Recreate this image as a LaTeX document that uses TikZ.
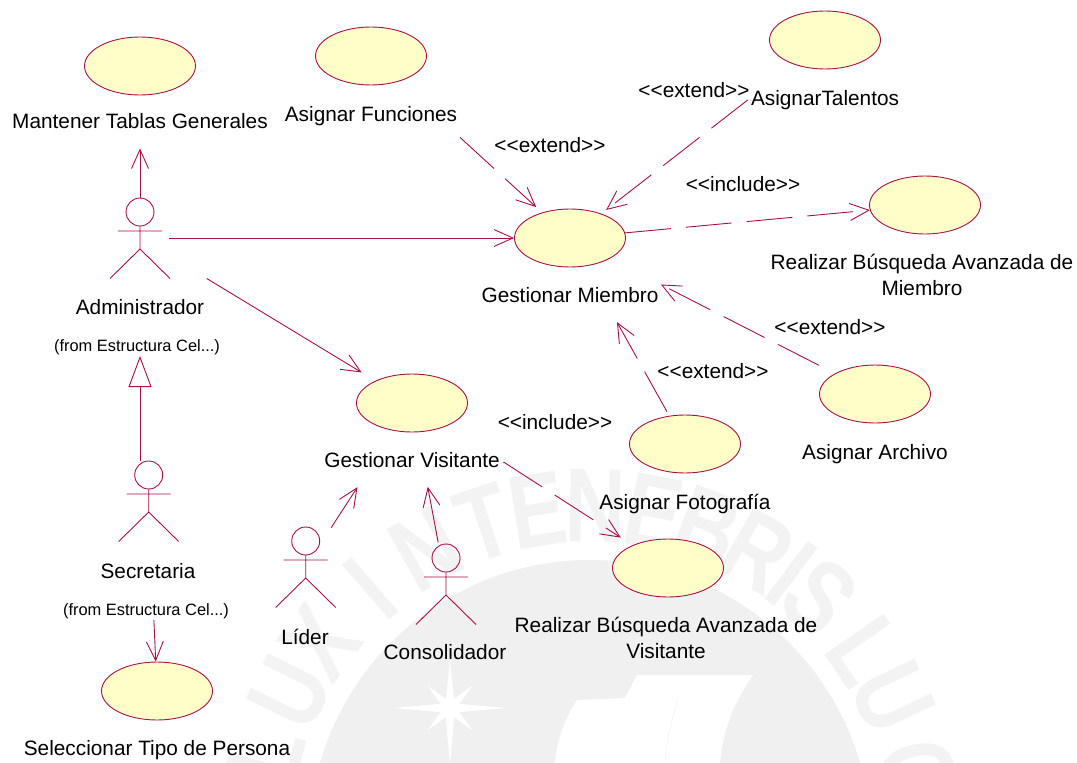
\documentclass[tikz,border=0pt]{standalone}
\usepackage{fontspec}
\setmainfont{Liberation Sans}
\usetikzlibrary{arrows.meta,shapes.geometric}
\definecolor{umlred}{HTML}{A6104A}
\definecolor{umlfill}{HTML}{FFFDC8}
\definecolor{sealgray}{HTML}{F0F0F0}
\definecolor{sealtext}{HTML}{F3F3F3}
\newcommand{\ster}[1]{<{}<#1>{}>}
\tikzset{
  lbl/.style={text=black,font=\fontsize{20.8}{26}\selectfont,inner sep=0pt,text height=15pt,text depth=5pt,align=center},
  uclbl/.style={lbl,yshift=-20pt},
  uclbltwo/.style={lbl,yshift=-46pt},
  small/.style={text=black,font=\fontsize{16.4}{18}\selectfont,inner sep=0pt},
  usecase/.style={draw=umlred,fill=umlfill,line width=.9pt,ellipse,minimum width=111pt,minimum height=58pt,inner sep=0pt},
  assoc/.style={draw=umlred,line width=.9pt,-{Straight Barb[length=19pt,width=17pt]}},
  depend/.style={assoc,dash pattern=on 46pt off 15pt},
  general/.style={draw=umlred,line width=.9pt,-{Triangle[open,length=31pt,width=23pt,fill=white]}},
  seal/.style={text=sealtext,font=\fontsize{105}{105}\bfseries\selectfont,inner sep=0pt},
  actor/.pic={
    \draw[umlred,line width=.9pt] (0,26) circle (14);
    \draw[umlred,line width=.9pt] (0,12) -- (0,-11) (-30,-40.5) -- (0,-11) -- (30,-40.5) (-22,7) -- (22,7);
  }
}
\begin{document}
\begin{tikzpicture}[x=1pt,y=1pt]
\useasboundingbox (0,0) rectangle (1077,-763);
\clip (0,0) rectangle (1077,-763);
% seal behind the diagram
\begin{scope}[shift={(590,-841)}]
  \fill[sealgray] (0,0) circle (281);
  \foreach \ltr/\ang in {L/165,U/153.6,X/143.7,I/131,N/119.3,T/108.3,E/99,N/89,E/79,B/69.5,R/60,I/53,S/46.7,L/34.6,U/25.4,C/12}
    \node[seal,transform shape,rotate=\ang-90,xscale=.8] (ltr\ang) at (\ang:335) {\ltr};
\end{scope}
\fill[white] (577,-700) -- (625,-698) -- (637,-675) -- (753,-675) .. controls (732,-705) and (722,-735) .. (720,-763) -- (555,-763) .. controls (557,-740) and (565,-718) .. (577,-700) -- cycle;
\draw[sealgray,line width=.5pt] (678,-698) .. controls (672,-720) and (666,-740) .. (665,-763);
\foreach \a/\r in {0/56,180/56,90/48,270/56,45/32,135/32,225/32,315/32}
  \fill[white,shift={(450,-708)},rotate=\a] (0,-5) -- (\r,0) -- (0,5) -- (-5,0) -- cycle;

% use cases
\node[usecase,label={[uclbl,yshift=2pt,name=mantenerlbl]below:Mantener Tablas Generales}] (mantener) at (140,-66) {};
\node[usecase,label={[uclbl,yshift=-1pt,name=funcioneslbl]below:Asignar Funciones}] (funciones) at (371,-56) {};
\node[usecase,label={[uclbl,yshift=-1pt,name=talentoslbl]below:AsignarTalentos}] (talentos) at (825,-40) {};
\node[usecase,label={[uclbltwo,xshift=-3pt,name=busqmiembrolbl]below:Realizar Búsqueda Avanzada de\\Miembro}] (busqmiembro) at (925,-205) {};
\node[usecase,label={[uclbl,name=miembrolbl]below:Gestionar Miembro}] (miembro) at (570,-238) {};
\node[usecase,label={[uclbl,name=visitantelbl]below:Gestionar Visitante}] (visitante) at (412,-403) {};
\node[usecase,label={[uclbl,yshift=-1pt,name=archivolbl]below:Asignar Archivo}] (archivo) at (875,-394) {};
\node[usecase,label={[uclbl,yshift=-1pt,name=fotolbl]below:Asignar Fotografía}] (foto) at (685,-444) {};
\node[usecase,label={[uclbltwo,xshift=-2pt,name=busqvisitlbl]below:Realizar Búsqueda Avanzada de\\Visitante}] (busqvisit) at (668,-568) {};
\node[usecase,label={[uclbl,name=tipolbl]below:Seleccionar Tipo de Persona}] (tipo) at (157,-691) {};

% actors
\node[coordinate] (admin) at (140,-238) {};
\node[coordinate] (secre) at (148.7,-501) {};
\node[coordinate] (lider) at (305.7,-567) {};
\node[coordinate] (conso) at (446,-584) {};
\pic at (admin) {actor};
\pic at (secre) {actor};
\pic at (lider) {actor};
\pic at (conso) {actor};
\node[lbl] (adminlbl) at (140,-309) {Administrador};
\node[small] (adminfrom) at (137,-347) {(from Estructura Cel...)};
\node[lbl] (secrelbl) at (148,-573) {Secretaria};
\node[small] (secrefrom) at (146,-611) {(from Estructura Cel...)};
\node[lbl] (liderlbl) at (305,-639) {Líder};
\node[lbl] (consolbl) at (445,-654) {Consolidador};

% stereotypes
\node[lbl] (st1) at (694,-92) {\ster{extend}};
\node[lbl] (st2) at (550,-147) {\ster{extend}};
\node[lbl] (st3) at (743,-186) {\ster{include}};
\node[lbl] (st4) at (830,-329) {\ster{extend}};
\node[lbl] (st5) at (713,-373) {\ster{extend}};
\node[lbl] (st6) at (555,-424) {\ster{include}};

% connectors
\draw[assoc,shorten <=40pt,shorten >=53pt] (admin) -- (mantener);
\draw[assoc,shorten <=29pt] (admin) -- (miembro);
\draw[assoc,shorten <=78pt,shorten >=16pt] (admin) -- (visitante);
\draw[depend,shorten <=83pt,shorten >=8pt] (funciones) -- (miembro);
\draw[depend,shorten <=58pt,shorten >=6pt] (talentos) -- (miembro);
\draw[depend] (miembro) -- (busqmiembro);
\draw[depend,shorten <=18pt,shorten >=57pt] (archivo) -- (miembro);
\draw[depend,shorten <=4.5pt,shorten >=64pt] (foto) -- (miembro);
\draw[depend,shorten <=66.6pt,shorten >=14pt] (visitante) -- (busqvisit);
\draw[assoc,shorten <=46.8pt,shorten >=67pt] (lider) -- (visitante);
\draw[assoc,shorten <=42.3pt,shorten >=55.5pt] (conso) -- (visitante);
\draw[assoc,shorten <=119pt] (secre) -- (tipo);
\coordinate (secretop) at (140,-461);
\draw[general,shorten >=118pt] (secretop) -- (admin);
\end{tikzpicture}
\end{document}
